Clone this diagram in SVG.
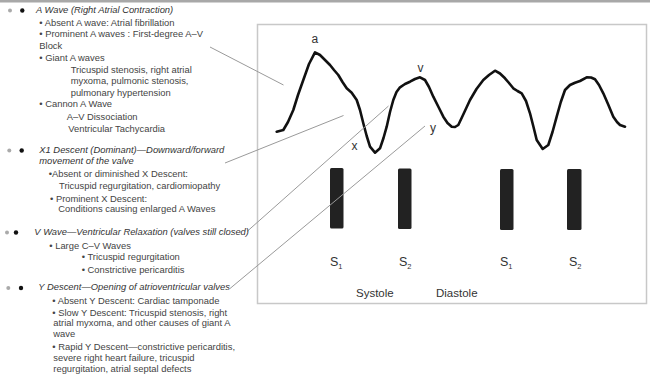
<svg xmlns="http://www.w3.org/2000/svg" width="650" height="375" viewBox="0 0 650 375">
<style>
text{font-family:"Liberation Sans",Arial,sans-serif;fill:#444}
.t{font-size:9.4px}
.h{font-size:9.4px;font-style:italic;fill:#333}
.lab{font-size:12px;fill:#333}
.s{font-size:12.5px;fill:#333}
.sub{font-size:7.5px}
.ph{font-size:11.5px;fill:#333}
.conn{stroke:#9a9a9a;stroke-width:1;fill:none}
.bar{fill:#222}
.dg{fill:#aaa}
.db{fill:#111}
</style>
<rect x="0" y="0" width="650" height="2.5" fill="#a8a8a8"/>
<g id="panel">
<rect x="257.5" y="24.5" width="389" height="279" fill="#fff" stroke="#c8c8c8" stroke-width="1.5"/>
<path id="waveform" d="M276.7,131.7 L283.3,130 L288,122 L293.3,110 L298,95 L303.3,80 L309,64 L315,52.3 L320,55 L325,60 L330,65 L334,70 L338.3,75 L342.5,82 L346.7,88.3 L351.7,92.7 L356.7,100 L360,110 L363.3,123.3 L366.7,136 L370,146.7 L375,152.7 L380,148.3 L383.5,138 L386.7,126.7 L390,112 L393.3,100 L396.5,92 L400,87.3 L405,84 L410,81.7 L415,79 L420,77.3 L425,80 L429,87 L433.3,96.7 L438.5,107 L443.3,116.7 L447.5,123 L451.7,126.7 L455,127 L458.3,125 L463.5,114 L470,100 L476.5,89 L483.3,80 L489,75 L495,70.7 L500,73.5 L505,78.3 L509,83 L513.3,88.3 L517.5,91 L521.7,93.3 L526,101 L530,113.3 L533.5,127 L536.7,140 L542.7,149 L548.3,145 L552.5,132 L556.7,116.7 L560.8,102 L565,90 L570,85 L575,82.7 L580,81 L586.7,77.3 L591,77.5 L595,79.3 L599,85 L603.3,93.3 L608,104 L613.3,116.7 L617,122 L620,125 L625,126.7" fill="none" stroke="#111" stroke-width="2.6" stroke-linejoin="round" stroke-linecap="round"/>
<text class="lab" x="311.5" y="42.5">a</text>
<text class="lab" x="417.5" y="71.5">v</text>
<text class="lab" x="351.5" y="150">x</text>
<text class="lab" x="430" y="131.5">y</text>
<rect class="bar" x="330" y="168" width="13.5" height="60.5" rx="1.5"/>
<rect class="bar" x="398" y="168.5" width="13.5" height="60.5" rx="1.5"/>
<rect class="bar" x="500" y="169" width="13.5" height="61" rx="1.5"/>
<rect class="bar" x="567" y="169" width="14.5" height="61" rx="1.5"/>
<text class="s" x="330" y="266">S<tspan class="sub" dy="2.5">1</tspan></text>
<text class="s" x="399" y="266">S<tspan class="sub" dy="2.5">2</tspan></text>
<text class="s" x="500" y="266">S<tspan class="sub" dy="2.5">1</tspan></text>
<text class="s" x="569" y="266">S<tspan class="sub" dy="2.5">2</tspan></text>
<text class="ph" x="356" y="296.5">Systole</text>
<text class="ph" x="436" y="296.5">Diastole</text>
</g>
<g id="connectors">
<line class="conn" x1="210" y1="47" x2="283.5" y2="85"/>
<line class="conn" x1="225" y1="163" x2="343.5" y2="115.5"/>
<line class="conn" x1="247" y1="231.5" x2="388.5" y2="106"/>
<line class="conn" x1="230" y1="288.5" x2="425" y2="126"/>
</g>
<g id="a-wave">
<circle class="dg" cx="10" cy="10.5" r="2"/>
<circle class="db" cx="22.3" cy="10.5" r="2.2"/>
<text class="h" x="36" y="13.3">A Wave (Right Atrial Contraction)</text>
<text class="t" x="39.3" y="26">• Absent A wave: Atrial fibrillation</text>
<text class="t" x="39.3" y="36.7">• Prominent A waves : First-degree A–V</text>
<text class="t" x="39.3" y="49.3">Block</text>
<text class="t" x="39.3" y="60.7">• Giant A waves</text>
<text class="t" x="70.7" y="73.3">Tricuspid stenosis, right atrial</text>
<text class="t" x="70.7" y="84.3">myxoma, pulmonic stenosis,</text>
<text class="t" x="70.7" y="95.7">pulmonary hypertension</text>
<text class="t" x="39.3" y="106.7">• Cannon A Wave</text>
<text class="t" x="66.7" y="120">A–V Dissociation</text>
<text class="t" x="68.3" y="131.7">Ventricular Tachycardia</text>
</g>
<g id="x-descent">
<circle class="dg" cx="9.3" cy="150.5" r="2"/>
<circle class="db" cx="21.7" cy="150.5" r="2.2"/>
<text class="h" x="39.3" y="153.3">X1 Descent (Dominant)—Downward/forward</text>
<text class="h" x="39.3" y="164.3">movement of the valve</text>
<text class="t" x="48.7" y="177.3">•Absent or diminished X Descent:</text>
<text class="t" x="59" y="189.3">Tricuspid regurgitation, cardiomiopathy</text>
<text class="t" x="50" y="201.7">• Prominent X Descent:</text>
<text class="t" x="58.3" y="212.3">Conditions causing enlarged A Waves</text>
</g>
<g id="v-wave">
<circle class="dg" cx="7" cy="232.5" r="2"/>
<circle class="db" cx="16" cy="232.5" r="2.2"/>
<text class="h" x="34.3" y="235">V Wave—Ventricular Relaxation (valves still closed)</text>
<text class="t" x="49.3" y="249.3">• Large C–V Waves</text>
<text class="t" x="81.7" y="260">• Tricuspid regurgitation</text>
<text class="t" x="81.7" y="273.3">• Constrictive pericarditis</text>
</g>
<g id="y-descent">
<circle class="dg" cx="8.3" cy="288" r="2"/>
<circle class="db" cx="21" cy="288" r="2.2"/>
<text class="h" x="38.3" y="290">Y Descent—Opening of atrioventricular valves</text>
<text class="t" x="52.3" y="304.3">• Absent Y Descent: Cardiac tamponade</text>
<text class="t" x="52.3" y="315.7">• Slow Y Descent: Tricuspid stenosis, right</text>
<text class="t" x="53.3" y="326.3">atrial myxoma, and other causes of giant A</text>
<text class="t" x="53.3" y="337">wave</text>
<text class="t" x="52.3" y="350">• Rapid Y Descent—constrictive pericarditis,</text>
<text class="t" x="53.3" y="360.7">severe right heart failure, tricuspid</text>
<text class="t" x="53.3" y="372.3">regurgitation, atrial septal defects</text>
</g>
</svg>
